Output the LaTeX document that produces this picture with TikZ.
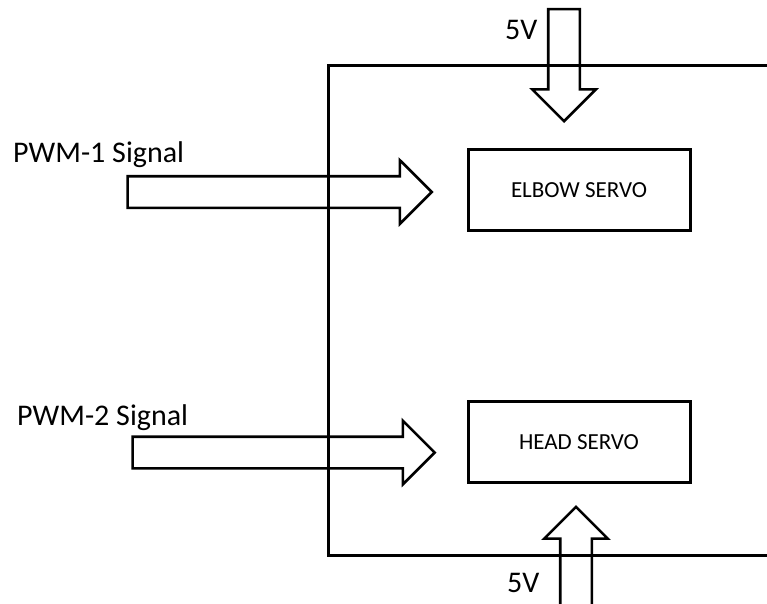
\documentclass[tikz,border=0pt]{standalone}
\usepackage{fontspec}
\setmainfont{Carlito}
\usetikzlibrary{shapes.arrows,positioning}
\tikzset{
  frame/.style={line width=3pt},
  servo/.style={draw, line width=3pt, minimum width=222pt, minimum height=81pt,
    inner sep=0pt, font=\fontsize{23}{27}\selectfont},
  lbl/.style={inner sep=0pt, anchor=base west, font=\fontsize{30}{36}\selectfont},
  bigarr/.style={single arrow, draw, line width=2.6pt, inner sep=14.5pt,
    single arrow head extend=16pt, minimum height=#1}
}

\begin{document}
\begin{tikzpicture}[x=1pt,y=-1pt]
  \useasboundingbox (0,0) rectangle (767,603);
  \clip (0,0) rectangle (767,603);
  % open board outline
  \draw[frame] (790,65) -- (328,65) -- (328,555) -- (790,555);
  \node[servo] (elbow) at (579,190) {ELBOW SERVO};
  \node[servo] (head) at (579,442) {HEAD SERVO};
  % signal arrows
  \node[bigarr=304pt, left=33pt of elbow.west, anchor=tip, yshift=-2pt] (pwm1) {};
  \node[bigarr=302pt, left=30pt of head.west, anchor=tip, yshift=-10.5pt] (pwm2) {};
  % supply arrows
  \node[bigarr=112pt, shape border rotate=270, above=25pt of elbow.north, anchor=tip, xshift=-15pt] (vtop) {};
  \node[bigarr=110pt, shape border rotate=90, below=21pt of head.south, anchor=tip, xshift=-3pt] (vbot) {};
  \node[lbl] (pwm1lbl) at (13,162) {PWM-1 Signal};
  \node[lbl] (pwm2lbl) at (17,425) {PWM-2 Signal};
  \node[lbl] (vtoplbl) at (505,39) {5V};
  \node[lbl] (vbotlbl) at (507,592) {5V};
\end{tikzpicture}
\end{document}
